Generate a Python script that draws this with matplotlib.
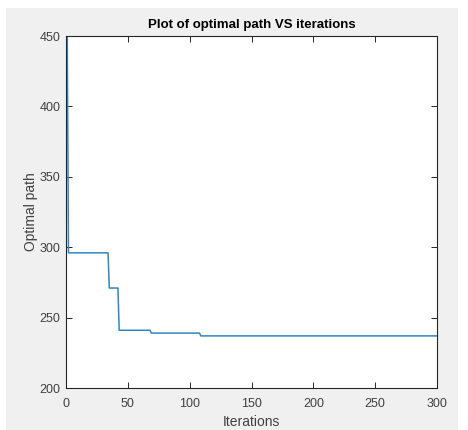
import numpy as np
import matplotlib
matplotlib.use("Agg")
from matplotlib import pyplot as plt
from matplotlib.patches import Rectangle

# step-wise best path length
step_start = [1, 2, 35, 43, 69, 109]      # iteration where each level begins
step_level = [452, 296, 271, 241, 239, 237]
n_iter = 300

iters = np.arange(1, n_iter + 1)
ends = step_start[1:] + [n_iter + 1]
best = np.concatenate([np.full(e - s, v) for s, e, v in zip(step_start, ends, step_level)])

plt.rcParams['font.family'] = ['Liberation Sans', 'DejaVu Sans']

W, H = 468, 430
fig = plt.figure(figsize=(W / 100, H / 100), dpi=100, facecolor='white')
# matlab-like grey figure window
fig.patches.append(Rectangle((6 / W, 0), (458 - 6) / W, (H - 8) / H,
                             transform=fig.transFigure, facecolor='#f0f0f0',
                             edgecolor='none', zorder=-10))

ax = fig.add_axes([66 / W, (H - 388) / H, (437 - 66) / W, (388 - 36) / H])
ax.plot(iters, best, color='#2f86c6', lw=1.1)

ax.set_xlim(0, 300)
ax.set_ylim(200, 450)
ax.set_xticks(np.arange(0, 301, 50))
ax.set_yticks(np.arange(200, 451, 50))
ax.tick_params(direction='in', length=4, width=0.7, top=True, right=True,
               labelsize=9, colors='#262626', labelcolor='#404040')
ax.tick_params(axis='x', pad=7)
ax.tick_params(axis='y', pad=4)
for s in ax.spines.values():
    s.set_color('#262626')
    s.set_linewidth(0.8)

ax.set_title('Plot of optimal path VS iterations', fontsize=9.5,
             fontweight='bold', color='black', pad=6)
ax.set_xlabel('Iterations', fontsize=10, color='#404040', labelpad=4)
ax.set_ylabel('Optimal path', fontsize=10, color='#404040', labelpad=1)

plt.savefig('out.png', dpi=100, facecolor=fig.get_facecolor())
